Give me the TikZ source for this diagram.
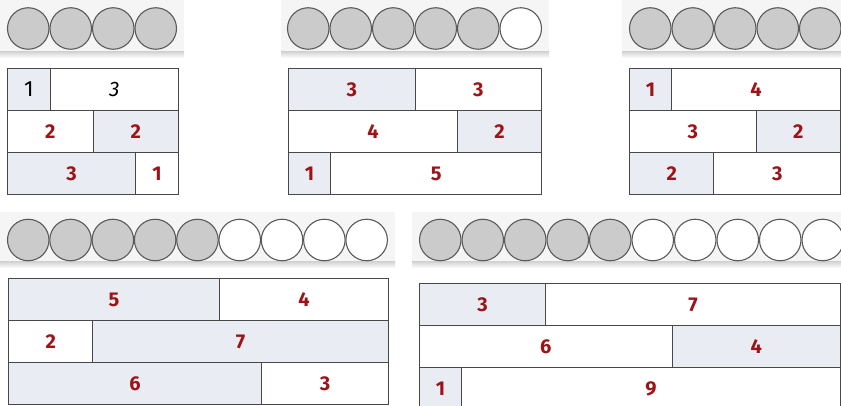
\documentclass[tikz,border=0pt]{standalone}
\usepackage{fontspec}
\setmainfont{Fira Sans}
\definecolor{zahlrot}{RGB}{156,20,24}
\definecolor{linie}{RGB}{72,72,72}
\definecolor{feldgrau}{RGB}{233,236,242}
\definecolor{kugelgrau}{RGB}{203,203,203}
\definecolor{kugelrand}{RGB}{90,90,90}
\definecolor{leiste}{RGB}{245,245,245}
\tikzset{
  feld/.style={rectangle, draw=linie, line width=1pt, inner sep=0pt, anchor=north west,
    minimum height=42pt, text=zahlrot, font=\fontsize{20}{20}\selectfont\bfseries},
  belegt/.style={feld, fill=feldgrau},
  frei/.style={feld, fill=white},
  kugel/.style={circle, draw=kugelrand, line width=1.1pt, minimum size=41.5pt,
    inner sep=0pt, fill=kugelgrau},
  leer/.style={kugel, fill=white},
  schatten/.style={top color=black!16, bottom color=white}
}
\begin{document}
\begin{tikzpicture}[x=1pt,y=-1pt]
  \useasboundingbox (0,0) rectangle (841,406);

  % Leisten hinter den Kugelreihen (mit leichtem Schatten)
  \fill[leiste] (0,0) rectangle (184,52);
  \shade[schatten] (0,52) rectangle (184,58);
  \fill[leiste] (281,0) rectangle (549,52);
  \shade[schatten] (281,52) rectangle (549,58);
  \fill[leiste] (622,0) rectangle (841,52);
  \shade[schatten] (622,52) rectangle (841,58);
  \fill[leiste] (0,212) rectangle (395,262);
  \shade[schatten] (0,262) rectangle (395,268);
  \fill[leiste] (412,212) rectangle (841,262);
  \shade[schatten] (412,262) rectangle (841,268);

  % Kugelreihen: grau = gefuellt, weiss = leer
  \foreach \i in {0,...,3} \node[kugel] (a-k\i) at (28.25+42.5*\i, 28.5) {};
  \foreach \i in {0,...,4} \node[kugel] (b-k\i) at (308.25+42.5*\i, 28.5) {};
  \node[leer] (b-k5) at (520.75, 28.5) {};
  \foreach \i in {0,...,4} \node[kugel] (c-k\i) at (650.25+42.5*\i, 28.5) {};
  \foreach \i in {0,...,4} \node[kugel] (d-k\i) at (28.25+42.3*\i, 240) {};
  \foreach \i in {5,...,8} \node[leer]  (d-k\i) at (28.25+42.3*\i, 240) {};
  \foreach \i in {0,...,4} \node[kugel] (e-k\i) at (440.25+42.5*\i, 240) {};
  \foreach \i in {5,...,9} \node[leer]  (e-k\i) at (440.25+42.5*\i, 240) {};

  % Zerlegungen der 4 (Feldbreite = Anzahl)
  \node[belegt, minimum width=42.75pt, text=black, font=\fontsize{22}{22}\selectfont] (a11) at (7,68) {1};
  \node[frei, minimum width=128.25pt, text=black, font=\fontsize{21}{21}\selectfont\itshape] (a12) at (49.75,68) {3};
  \node[frei,   minimum width=85.5pt]   (a21) at (7,110)     {2};
  \node[belegt, minimum width=85.5pt]   (a22) at (92.5,110)  {2};
  \node[belegt, minimum width=128.25pt] (a31) at (7,152)     {3};
  \node[frei,   minimum width=42.75pt]  (a32) at (135.25,152) {1};

  % Zerlegungen der 6
  \node[belegt, minimum width=126.6pt] (b11) at (288,68)    {3};
  \node[frei,   minimum width=126.6pt] (b12) at (414.6,68)  {3};
  \node[frei,   minimum width=168.8pt] (b21) at (288,110)   {4};
  \node[belegt, minimum width=84.4pt]  (b22) at (456.8,110) {2};
  \node[belegt, minimum width=42.2pt]  (b31) at (288,152)   {1};
  \node[frei,   minimum width=211pt]   (b32) at (330.2,152) {5};

  % Zerlegungen der 5
  \node[belegt, minimum width=42.2pt]  (c11) at (629,68)    {1};
  \node[frei,   minimum width=168.8pt] (c12) at (671.2,68)  {4};
  \node[frei,   minimum width=126.6pt] (c21) at (629,110)   {3};
  \node[belegt, minimum width=84.4pt]  (c22) at (755.6,110) {2};
  \node[belegt, minimum width=84.4pt]  (c31) at (629,152)   {2};
  \node[frei,   minimum width=126.6pt] (c32) at (713.4,152) {3};

  % Zerlegungen der 9
  \node[belegt, minimum width=211pt]   (d11) at (8,278)     {5};
  \node[frei,   minimum width=168.8pt] (d12) at (219,278)   {4};
  \node[frei,   minimum width=84.4pt]  (d21) at (8,320)     {2};
  \node[belegt, minimum width=295.4pt] (d22) at (92.4,320)  {7};
  \node[belegt, minimum width=253.2pt] (d31) at (8,362)     {6};
  \node[frei,   minimum width=126.6pt] (d32) at (261.2,362) {3};

  % Zerlegungen der 10 (unterste Reihe laeuft ueber den Rand)
  \node[belegt, minimum width=126.3pt] (e11) at (419,283)   {3};
  \node[frei,   minimum width=294.7pt] (e12) at (545.3,283) {7};
  \node[frei,   minimum width=252.6pt] (e21) at (419,325)   {6};
  \node[belegt, minimum width=168.4pt] (e22) at (671.6,325) {4};
  \node[belegt, minimum width=42.1pt]  (e31) at (419,367)   {1};
  \node[frei,   minimum width=378.9pt] (e32) at (461.1,367) {9};
\end{tikzpicture}
\end{document}
